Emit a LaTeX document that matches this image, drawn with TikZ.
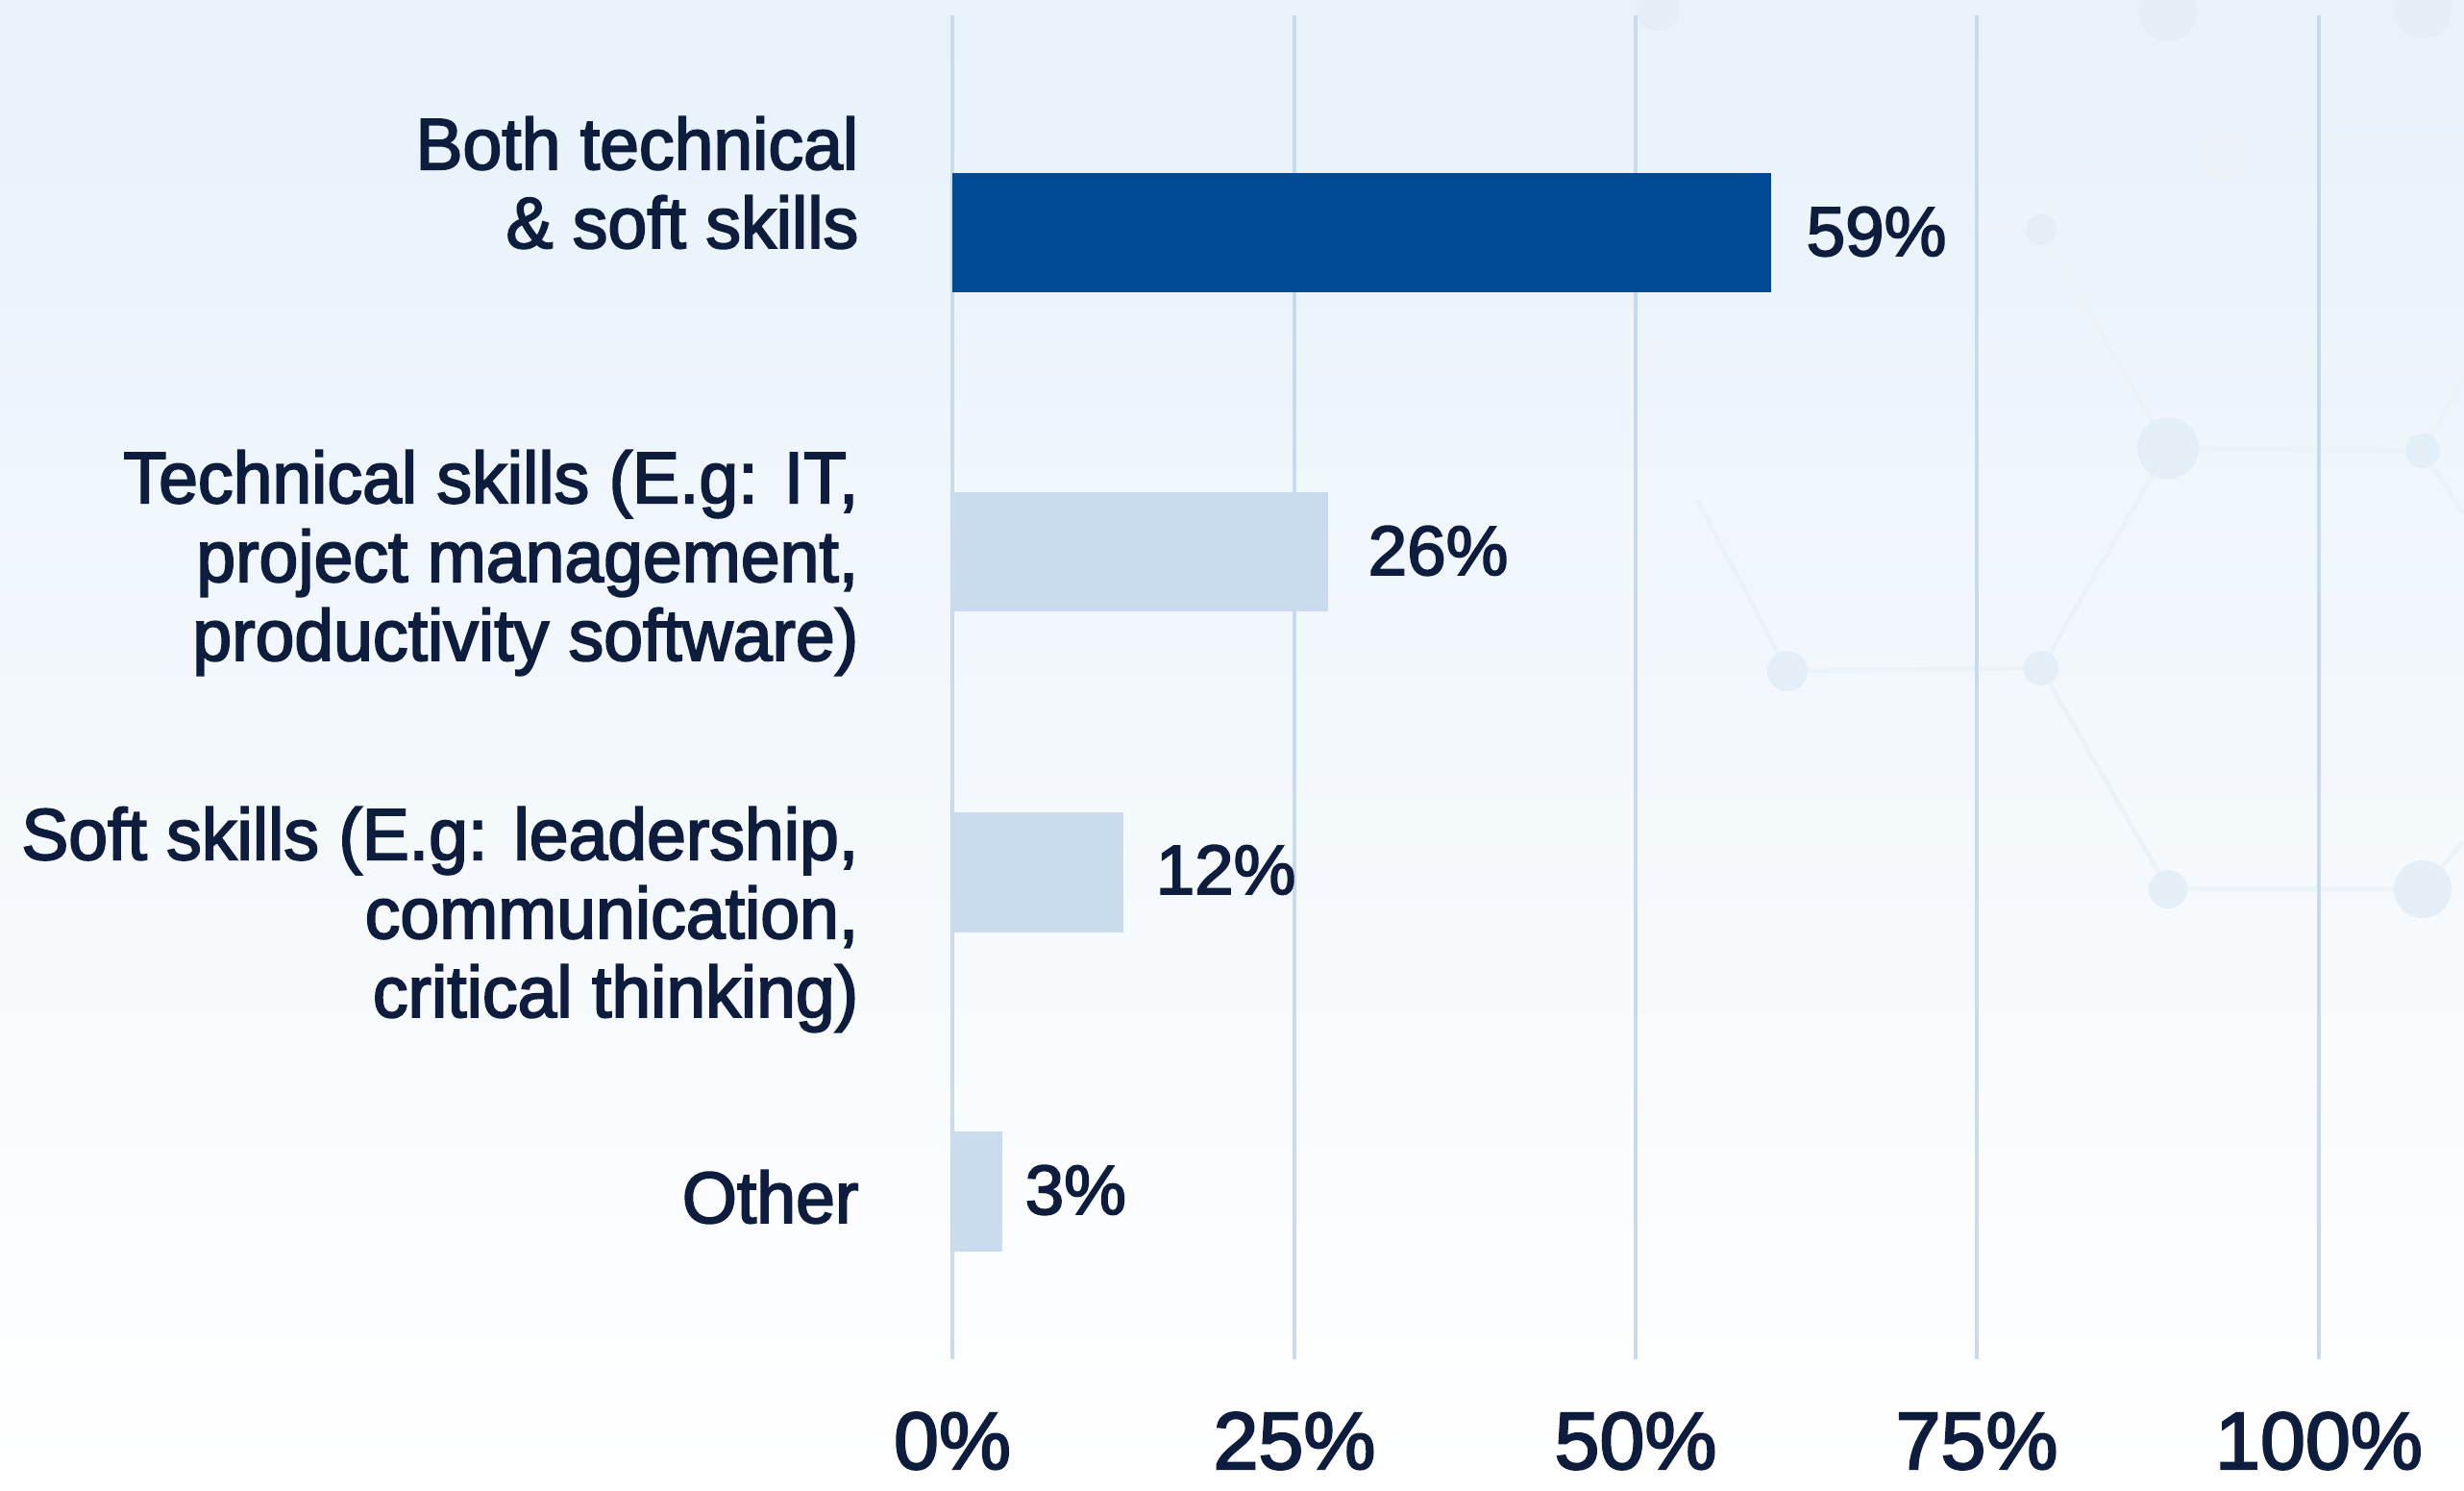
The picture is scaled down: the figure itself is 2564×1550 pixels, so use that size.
\documentclass[tikz,border=0pt]{standalone}
\usepackage{fontspec}
\setmainfont{Liberation Sans}
\newfontfamily\labfont{Liberation Sans}[FakeBold=2.5,FakeStretch=0.97]
\newfontfamily\numfont{Liberation Sans}[FakeBold=2.5]
\definecolor{navy}{HTML}{0E1D3D}
\definecolor{darkbar}{HTML}{004A93}
\definecolor{lightbar}{HTML}{C8DBEF}
\definecolor{gridc}{HTML}{C9DAEC}
\definecolor{bgtop}{HTML}{E7F2FB}
\definecolor{bgmid}{HTML}{F3F8FC}
\definecolor{netline}{HTML}{EBF3F9}
\definecolor{netdot}{HTML}{E4EEF7}
\begin{document}
\begin{tikzpicture}[x=0.01cm,y=-0.01cm,
  catlabel/.style={anchor=base east, align=right, inner sep=0pt, text=navy,
    font=\labfont\fontsize{21.5}{23.3}\selectfont},
  pctlabel/.style={anchor=base west, inner sep=0pt, text=navy,
    font=\numfont\fontsize{20.7}{22.5}\selectfont},
  axlabel/.style={anchor=base, inner sep=0pt, text=navy,
    font=\numfont\fontsize{24}{26}\selectfont},
  gridline/.style={draw=gridc, line width=0.9pt},
  netedge/.style={draw=netline, line width=1.3pt},
  netnode/.style={circle, fill=netdot, inner sep=0pt}]
\useasboundingbox (0,0) rectangle (2564,1550);
\shade[top color=bgtop, bottom color=white, middle color=bgmid] (0,0) rectangle (2564,1550);

% decorative network
\coordinate (nA) at (1725,10);
\coordinate (nB) at (2256,13);
\coordinate (nC) at (2521,10);
\coordinate (nD) at (2322,140);
\coordinate (nE) at (2124,239);
\coordinate (nE0) at (2042,239);
\coordinate (nF) at (2256,466);
\coordinate (nG) at (2521,469);
\coordinate (nH) at (2124,695);
\coordinate (nI) at (1860,698);
\coordinate (nJ) at (2256,925);
\coordinate (nK) at (2521,925);
\coordinate (nR1) at (2564,143);
\coordinate (nR2) at (2564,394);
\coordinate (nR2b) at (2564,535);
\coordinate (nR3) at (2564,875);
\coordinate (nL1) at (1835,195);
\coordinate (nL2) at (1766,520);
\draw[netedge] (nB) -- (nD) -- (nR1);
\draw[netedge] (nC) -- (2564,70);
\draw[netedge] (nB) -- (nE) -- (nE0);
\draw[netedge] (nE) -- (nF) -- (nG) -- (nR2);
\draw[netedge] (nG) -- (nR2b);
\draw[netedge] (nF) -- (nH) -- (nI) -- (nL2);
\draw[netedge] (nH) -- (nJ) -- (nK) -- (nR3);
\draw[netedge] (nA) -- (nL1);
\node[netnode, minimum size=0.45cm] (dA) at (nA) {};
\node[netnode, minimum size=0.6cm] (dB) at (nB) {};
\node[netnode, minimum size=0.6cm] (dC) at (nC) {};
\node[netnode, minimum size=0.5cm, fill=netline] (dD) at (2312,163) {};
\node[netnode, minimum size=0.32cm] (dE) at (nE) {};
\node[netnode, minimum size=0.64cm] (dF) at (nF) {};
\node[netnode, minimum size=0.36cm] (dG) at (nG) {};
\node[netnode, minimum size=0.36cm] (dH) at (nH) {};
\node[netnode, minimum size=0.42cm] (dI) at (nI) {};
\node[netnode, minimum size=0.4cm] (dJ) at (nJ) {};
\node[netnode, minimum size=0.6cm] (dK) at (nK) {};

% grid lines
\foreach \gx/\gn in {991/g0,1347/g25,1702/g50,2057/g75,2413/g100}{
  \coordinate (\gn top) at (\gx,16);
  \coordinate (\gn bot) at (\gx,1414);
  \draw[gridline] (\gn top) -- (\gn bot);
}

% bars
\fill[darkbar] (991,180) rectangle (1843,304);
\fill[lightbar] (991,512) rectangle (1382,636);
\fill[lightbar] (991,845) rectangle (1169,970);
\fill[lightbar] (991,1177) rectangle (1043,1302);

% value labels
\node[pctlabel] (v1) at (1879,266) {59\%};
\node[pctlabel] (v2) at (1423,598) {26\%};
\node[pctlabel] (v3) at (1202,930) {12\%};
\node[pctlabel] (v4) at (1066,1263) {3\%};

% category labels (anchor = baseline of last line)
\node[catlabel] (c1) at (894,258) {Both technical\\\& soft skills};
\node[catlabel] (c2) at (894,687) {Technical skills (E.g: IT,\\project management,\\productivity software)};
\node[catlabel] (c3) at (894,1058) {Soft skills (E.g: leadership,\\communication,\\critical thinking)};
\node[catlabel] (c4) at (894,1272) {Other};

% axis labels
\node[axlabel] (a0) at (991,1528) {0\%};
\node[axlabel] (a25) at (1347,1528) {25\%};
\node[axlabel] (a50) at (1702,1528) {50\%};
\node[axlabel] (a75) at (2057,1528) {75\%};
\node[axlabel] (a100) at (2413,1528) {100\%};
\end{tikzpicture}
\end{document}
